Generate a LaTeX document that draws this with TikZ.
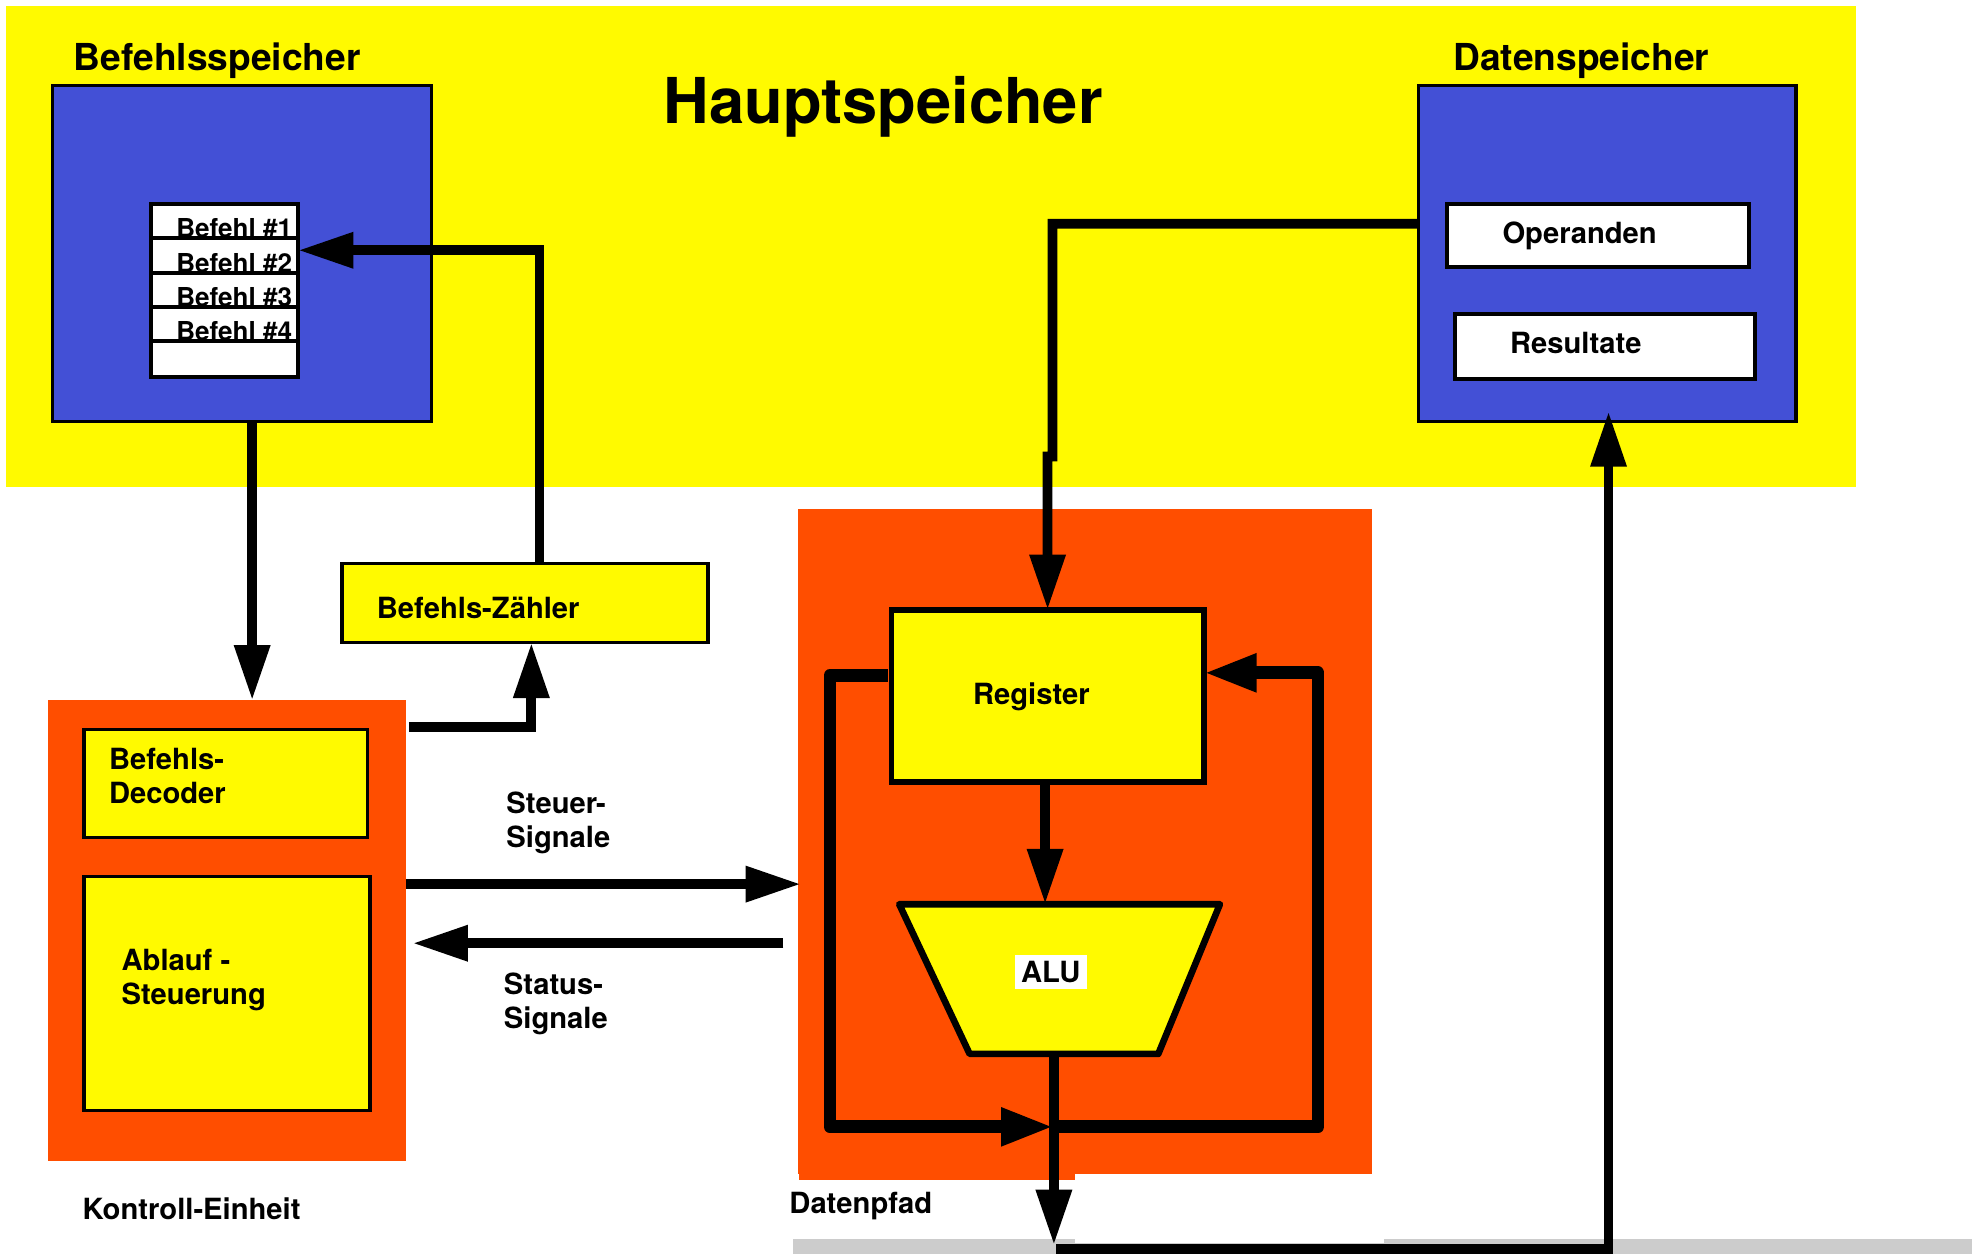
\documentclass[tikz,border=0pt]{standalone}
\usepackage{fontspec}
\setmainfont{TeX Gyre Heros}
\usetikzlibrary{arrows.meta,calc}

\definecolor{memyellow}{RGB}{255,250,0}
\definecolor{memblue}{RGB}{67,80,214}
\definecolor{unitorange}{RGB}{255,78,0}
\definecolor{busgray}{RGB}{204,204,204}

\tikzset{
  plain/.style={inner sep=0, outer sep=0},
  area/.style={plain, draw=none},
  memblock/.style={plain, draw, fill=memblue, line width=0.8pt},
  whitebox/.style={plain, draw, fill=white, line width=0.9pt},
  unitbox/.style={plain, draw, fill=memyellow, line width=0.8pt},
  regbox/.style={plain, draw, fill=memyellow, line width=1.3pt},
  alushape/.style={draw, fill=memyellow, line width=1.5pt, line join=round},
  lbl/.style={inner sep=0, anchor=base west, font=\bfseries\fontsize{6.6}{8}\selectfont},
  small/.style={inner sep=0, anchor=base east, font=\bfseries\fontsize{5.9}{7}\selectfont},
  heading/.style={inner sep=0, anchor=base west, font=\bfseries\fontsize{8.4}{10}\selectfont},
  title/.style={inner sep=0, anchor=base west, font=\bfseries\fontsize{14.3}{17}\selectfont},
  tip/.tip={Triangle[length=0.44cm, width=0.27cm]},
  conn/.style={line width=2.2pt, -{tip}},
  loopline/.style={line width=2.9pt, line join=round, -{Triangle[length=0.42cm, width=0.28cm]}},
}

\begin{document}
\begin{tikzpicture}[x=0.01cm, y=-0.01cm]
\useasboundingbox (0,0) rectangle (1568,997);

% bus bar at the bottom
\node[area, fill=busgray, minimum width=9.37cm, minimum height=0.12cm] (busbar) at (1099.5,991) {};
\node[area, fill=white, minimum width=2.45cm, minimum height=0.55cm] (buspatch) at (977.5,960.5) {};

% main memory
\node[area, fill=memyellow, minimum width=14.70cm, minimum height=3.82cm] (haupt) at (740,196) {};
\node[title] (hauptlbl) at (527,98) {Hauptspeicher};

% instruction memory
\node[heading] (bslbl) at (58,56) {Befehlsspeicher};
\node[memblock, minimum width=3.01cm, minimum height=2.67cm] (bs) at (192.5,201.5) {};
\node[whitebox, minimum width=1.17cm, minimum height=1.38cm] (list) at (178.5,231) {};
\node[small] (b1) at ($(list.north east)+(-4,27)$) {Befehl \#1};
\node[small] (b2) at ($(list.north east)+(-4,54.5)$) {Befehl \#2};
\node[small] (b3) at ($(list.north east)+(-4,81.5)$) {Befehl \#3};
\node[small] (b4) at ($(list.north east)+(-4,108.5)$) {Befehl \#4};
\foreach \d in {27.5,55,82,109}
  \draw[line width=0.9pt] ($(list.north west)+(0,\d)$) -- ($(list.north east)+(0,\d)$);

% data memory
\node[heading] (dslbl) at (1155,56) {Datenspeicher};
\node[memblock, minimum width=3.00cm, minimum height=2.67cm] (ds) at (1278,201.5) {};
\node[whitebox, minimum width=2.40cm, minimum height=0.50cm] (op) at (1271,187) {};
\node[lbl] (oplbl) at (1194,194) {Operanden};
\node[whitebox, minimum width=2.38cm, minimum height=0.51cm] (res) at (1276,275.5) {};
\node[lbl] (reslbl) at (1200,281) {Resultate};

% control unit
\node[area, fill=unitorange, minimum width=2.85cm, minimum height=3.66cm] (ke) at (180.5,740) {};
\node[unitbox, minimum width=2.25cm, minimum height=0.86cm] (dec) at (179.5,623) {};
\node[lbl] (declbl1) at (86,612) {Befehls-};
\node[lbl] (declbl2) at (86,639) {Decoder};
\node[unitbox, minimum width=2.27cm, minimum height=1.86cm] (abl) at (180.5,790) {};
\node[lbl] (abllbl1) at (96,772) {Ablauf -};
\node[lbl] (abllbl2) at (96,799) {Steuerung};
\node[lbl] (kelbl) at (65,970) {Kontroll-Einheit};

% program counter
\node[unitbox, minimum width=2.91cm, minimum height=0.63cm] (pc) at (417.5,479.5) {};
\node[lbl] (pclbl) at (299,492) {Befehls-Zähler};

% data path
\node[area, fill=unitorange, minimum width=4.56cm, minimum height=5.28cm] (dp) at (863,669) {};
\node[area, fill=unitorange, minimum width=2.20cm, minimum height=0.06cm] (dpfoot) at (745,935) {};
\node[lbl] (dplbl) at (627,965) {Datenpfad};
\node[regbox, minimum width=2.48cm, minimum height=1.37cm] (reg) at (833,553.5) {};
\node[lbl] (reglbl) at (773,560) {Register};

% ALU trapezoid
\coordinate (alunw) at (715,719);
\coordinate (alune) at (970,719);
\coordinate (aluse) at (921,838);
\coordinate (alusw) at (771,838);
\draw[alushape] (alunw) -- (alune) -- (aluse) -- (alusw) -- cycle;
\coordinate (alutop) at (831,719);
\coordinate (alubot) at (838,838);
\node[lbl, anchor=center, fill=white, minimum width=0.57cm, minimum height=0.27cm] (alulbl) at (835.5,772.5) {ALU};

% signal labels
\node[lbl] (st1) at (402,647) {Steuer-};
\node[lbl] (st2) at (402,674) {Signale};
\node[lbl] (ss1) at (400,791) {Status-};
\node[lbl] (ss2) at (400,818) {Signale};

\coordinate (aluout) at (838,896);
\coordinate (busdown) at (838,990);
\coordinate (busstart) at (840,993);

% instruction fetch and decode
\draw[conn] ($(bs.south)+(8,0)$) -- ($(bs.south |- ke.north)+(8,0)$);
\draw[conn] ($(pc.north)+(11.5,0)$) |- ($(list.east)+(0,-32)$);
\draw[conn] ($(ke.east)+(2,-162)$) -| ($(pc.south)+(5,0)$);

% control and status signals
\draw[conn] ($(ke.east)+(0,-37)$) -- ($(dp.west)+(2,34)$);
\draw[conn] ($(dp.west)+(-12,81)$) -- ($(ke.east)+(5,10)$);

% operands into the register
\draw[conn, line join=miter] ($(ds.west)+(0,-23.5)$) -- ++(-291,0) -- ++(0,185) -- ++(-4,0) -- (reg.north);

% register to ALU
\draw[conn] ($(reg.south)+(-2,0)$) -- (alutop);

% feedback loops around the ALU
\draw[loopline] ($(reg.west)+(-3,-16.5)$) -- ++(-46,0) |- (aluout);
\draw[loopline] (aluout) -- ++(210,0) |- ($(reg.east)+(0,-18.5)$);

% result path back to the data memory
\draw[conn] (alubot) -- (busdown);
\draw[conn, line join=miter] (busstart) -| ($(ds.south)+(1,-8)$);

\end{tikzpicture}
\end{document}
